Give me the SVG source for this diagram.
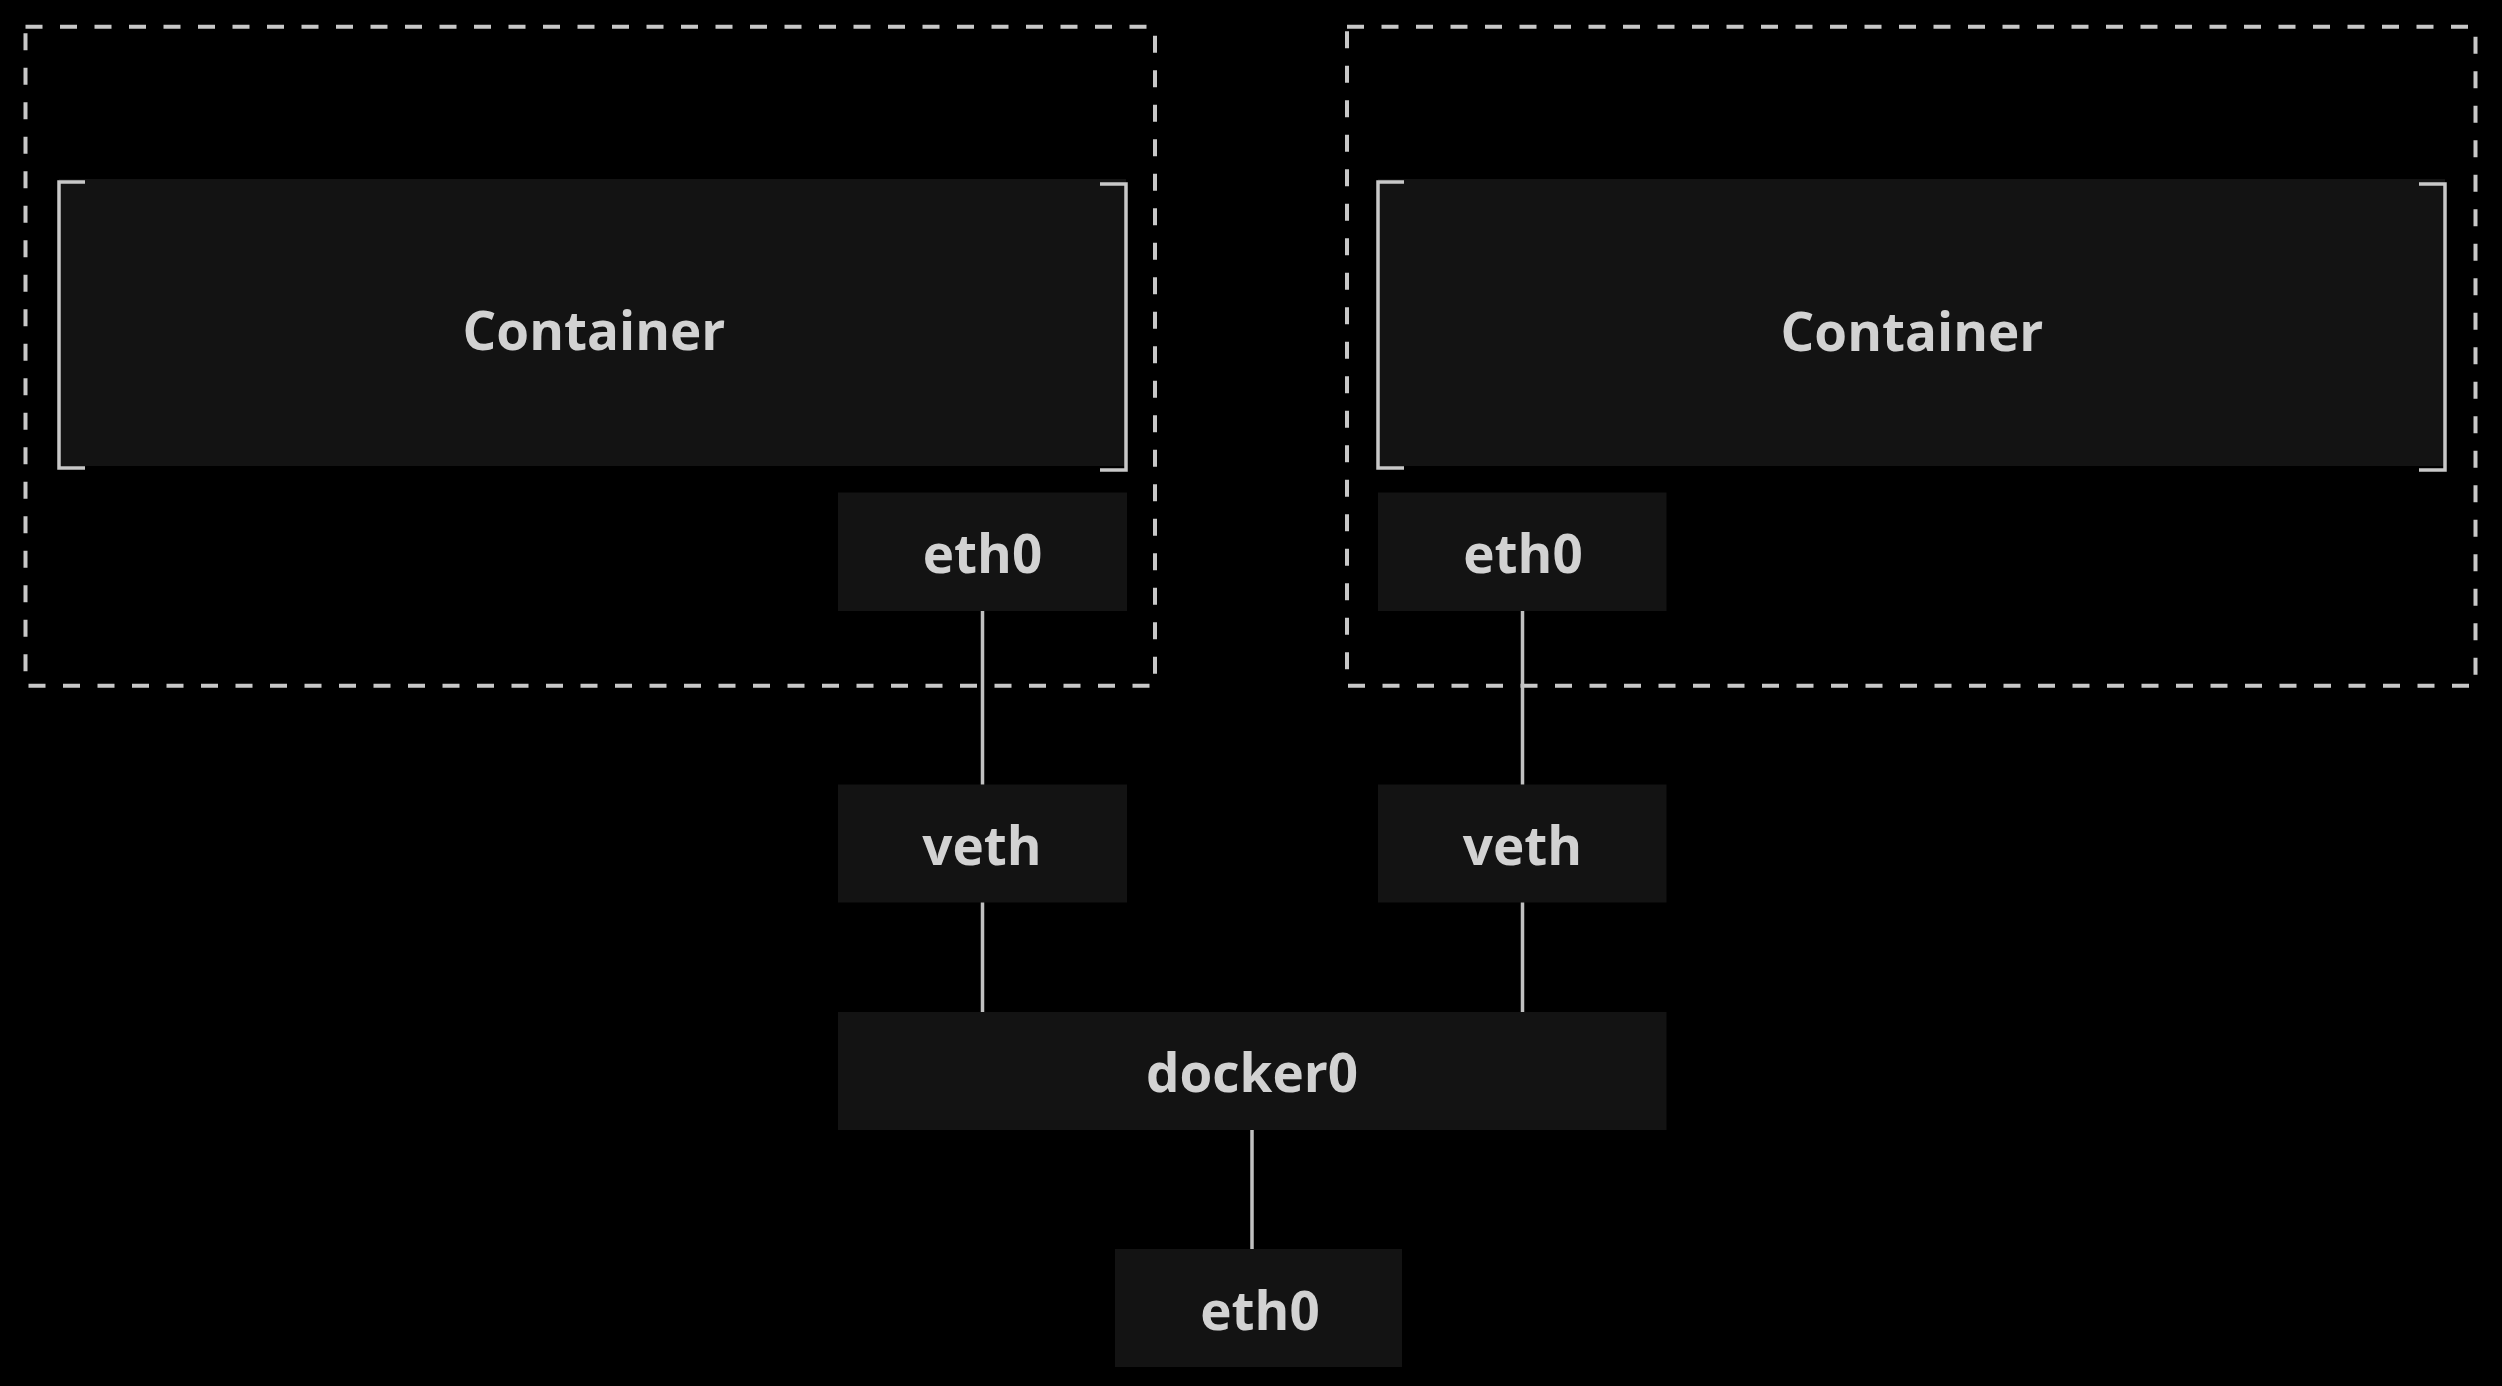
<svg xmlns="http://www.w3.org/2000/svg" width="2502" height="1386" viewBox="0 0 2502 1386">
  <style>
    .bg { fill: #000000; }
    .host { fill: none; stroke: #c8c8c8; stroke-width: 4; stroke-dasharray: 17 17.5; }
    .box { fill: #131313; }
    .bracket { fill: none; stroke: #c8c8c8; stroke-width: 3.5; }
    .label { font-family: "Open Sans", "Noto Sans", "Liberation Sans", sans-serif; font-weight: 700; font-size: 53px; fill: #d2d2d2; text-anchor: middle; }
    .conn { stroke: #c0c0c0; stroke-width: 3.5; fill: none; }
  </style>
  <rect class="bg" x="0" y="0" width="2502" height="1386"/>

  <g id="host-left">
    <rect class="host" x="25.5" y="26.7" width="1129.5" height="659"/>
  </g>
  <g id="host-right">
    <rect class="host" x="1347" y="26.7" width="1128.5" height="659"/>
  </g>

  <g id="container-left">
    <rect class="box" x="59" y="179" width="1067" height="287"/>
    <path class="bracket" d="M85 182 H59 V468 H85"/>
    <path class="bracket" d="M1100 184 H1126 V470 H1100"/>
    <text class="label" x="594" y="350">Container</text>
  </g>
  <g id="container-right">
    <rect class="box" x="1378" y="179" width="1067" height="287"/>
    <path class="bracket" d="M1404 182 H1378 V468 H1404"/>
    <path class="bracket" d="M2419 184 H2445 V470 H2419"/>
    <text class="label" x="1912" y="351">Container</text>
  </g>

  <g id="eth0-left">
    <rect class="box" x="838" y="492.5" width="289" height="118.5"/>
    <text class="label" x="982.5" y="573">eth0</text>
  </g>
  <g id="eth0-right">
    <rect class="box" x="1378" y="492.5" width="288.5" height="118.5"/>
    <text class="label" x="1523" y="573">eth0</text>
  </g>

  <g id="veth-left">
    <rect class="box" x="838" y="784.5" width="289" height="118"/>
    <text class="label" x="982" y="865">veth</text>
  </g>
  <g id="veth-right">
    <rect class="box" x="1378" y="784.5" width="288.5" height="118"/>
    <text class="label" x="1522.5" y="865">veth</text>
  </g>

  <g id="docker0">
    <rect class="box" x="838" y="1012" width="828.5" height="118"/>
    <text class="label" x="1252" y="1091.5">docker0</text>
  </g>

  <g id="eth0-host">
    <rect class="box" x="1115" y="1249" width="287" height="118"/>
    <text class="label" x="1260" y="1330">eth0</text>
  </g>

  <g id="connectors">
    <line class="conn" x1="982.5" y1="611" x2="982.5" y2="784.5"/>
    <line class="conn" x1="1522.5" y1="611" x2="1522.5" y2="784.5"/>
    <line class="conn" x1="982.5" y1="902.5" x2="982.5" y2="1012"/>
    <line class="conn" x1="1522.5" y1="902.5" x2="1522.5" y2="1012"/>
    <line class="conn" x1="1252" y1="1130" x2="1252" y2="1249"/>
  </g>
</svg>
